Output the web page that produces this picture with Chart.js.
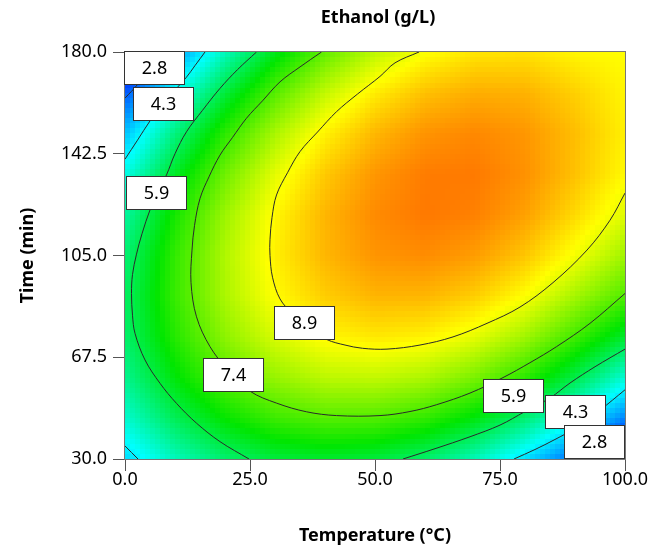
<!DOCTYPE html>
<html><head><meta charset="utf-8">
<script src="https://cdn.jsdelivr.net/npm/chart.js@4.4.1/dist/chart.umd.min.js"></script>
<style>html,body{margin:0;padding:0;background:#fff;} #wrap{width:666px;height:552px;}</style>
</head><body><div id="wrap"><canvas id="c" width="666" height="552"></canvas></div>
<script>
// ---------- data ----------
const chartTitle = 'Ethanol (g/L)';
const xTitle = 'Temperature (°C)';
const yTitle = 'Time (min)';
const xTicks = [0, 25, 50, 75, 100];
const yTicks = [30, 67.5, 105, 142.5, 180];

// surface values (rows: time, columns: temperature)
const gridTemps = [0, 10, 20, 30, 40, 50, 60, 70, 80, 90, 100];
const gridTimes = [30, 45, 60, 75, 90, 105, 120, 135, 150, 165, 180];
const row030 = [4.02, 4.98, 5.66, 6.08, 6.22, 6.09, 5.69, 5.01, 4.07, 2.85, 1.36];
const row045 = [4.81, 5.87, 6.65, 7.17, 7.41, 7.37, 7.07, 6.50, 5.65, 4.53, 3.14];
const row060 = [5.37, 6.52, 7.41, 8.02, 8.36, 8.42, 8.22, 7.74, 7.00, 5.98, 4.75];
const row075 = [5.69, 6.94, 7.92, 8.63, 9.07, 9.24, 9.13, 8.76, 8.11, 7.19, 6.20];
const row090 = [5.77, 7.12, 8.21, 9.02, 9.55, 9.82, 9.81, 9.54, 8.99, 8.16, 7.35];
const row105 = [5.62, 7.07, 8.25, 9.16, 9.80, 10.17, 10.26, 10.08, 9.63, 8.91, 8.10];
const row120 = [5.23, 6.79, 8.07, 9.07, 9.81, 10.28, 10.47, 10.39, 10.04, 9.41, 8.70];
const row135 = [4.61, 6.27, 7.64, 8.75, 9.59, 10.15, 10.44, 10.46, 10.21, 9.68, 9.05];
const row150 = [3.76, 5.51, 6.99, 8.19, 9.13, 9.79, 10.18, 10.30, 10.15, 9.72, 9.15];
const row165 = [2.67, 4.52, 6.10, 7.40, 8.43, 9.20, 9.69, 9.90, 9.85, 9.52, 9.10];
const row180 = [1.34, 3.29, 4.97, 6.37, 7.51, 8.37, 8.96, 9.27, 9.32, 9.09, 9.00];
const gridValues = [row030, row045, row060, row075, row090, row105, row120, row135, row150, row165, row180];

// contour lines: [temperature, time]
const contour89 = [[58.8,180],[54,176],[51,171],[46.5,164.5],[42.3,158],[38.5,150.5],[35,143.3],[32.5,135.5],[30.3,127.3],[29.4,119],[29,111],[29,105],[29.5,97],[31,89],[33.5,83.5],[36.5,78.5],[40.4,74],[44,72],[47.5,70.8],[52.4,70.5],[59,72],[65.6,75],[72.4,80],[79,86],[85.6,95],[92.4,107],[97,118],[100,128]];
const contour74 = [[39.3,180],[35,174.5],[31,169],[27.5,162],[24.3,155.6],[21.5,148.5],[19,142],[16.8,134],[15,126],[13.9,116],[13.4,107],[13.2,95],[14.3,82.4],[17,71.4],[20.5,63],[25,55],[30.3,50.6],[36.3,47.4],[42.3,46],[51,46],[57,47.5],[62.3,50],[69,54.3],[75.6,60],[81,65.5],[86.3,71.4],[93,80],[100,91]];
const contour59L = [[26.3,180],[22.5,173.5],[19,166.6],[15.5,158.5],[12.3,150.6],[10,142.5],[8.3,134.7],[6.5,128],[5,121.8],[3.4,113],[2.3,105.5],[1.5,98],[1.3,91],[1.5,83],[2,76.3],[4,66.5],[7,57.9],[10.3,50.5],[14.3,43.2],[19,36.4],[24.8,30]];
const contour59R = [[55.6,30],[62,33.8],[69,38.2],[75,42.5],[80,47.5],[85,52.5],[89,58],[94,64],[100,70.5]];
const contour43TL = [[16,180],[14,175],[12.2,170.5],[10,166],[7.5,160.5],[5,154.6],[2.5,147.5],[0,140.5]];
const contour43BL = [[0,34.8],[1.3,32.4],[2.6,30]];
const contour43BR = [[77.8,30],[82,33.5],[86,37.2],[90,41.3],[95,48],[100,55.5]];
const contour28TL = [[7.3,180],[5,174.5],[2.5,168],[0,163]];
const contour28BR = [[90.3,30],[94,33.7],[97,37.3],[100,42]];
const contourPieces = [contour89, contour74, contour59L, contour59R, contour43TL, contour43BL, contour43BR, contour28TL, contour28BR];

// contour labels
const labelTexts = ['2.8', '4.3', '5.9', '8.9', '7.4', '5.9', '4.3', '2.8'];
const labelTemps = [5.9, 7.7, 6.3, 35.9, 21.7, 77.7, 90.1, 93.8];
const labelTimes = [174.1, 161.0, 128.2, 80.1, 61.1, 53.2, 47.3, 36.1];

// ---------- drawing ----------
const FONT = '"Noto Sans", "DejaVu Sans", sans-serif';
const stopVals = [1.8, 4.4, 6.6, 9.0, 11.8];
const stopCols = [[0,0,255],[0,255,255],[0,230,0],[255,255,0],[255,0,0]];
function colorFor(v){
  if (v <= stopVals[0]) return 'rgb(' + stopCols[0].join(',') + ')';
  for (let i = 1; i < stopVals.length; i++){
    if (v <= stopVals[i]){
      const f = (v - stopVals[i-1]) / (stopVals[i] - stopVals[i-1]);
      const a = stopCols[i-1], b = stopCols[i];
      return 'rgb(' + [0,1,2].map(k => Math.round(a[k] + (b[k]-a[k])*f)).join(',') + ')';
    }
  }
  return 'rgb(' + stopCols[stopCols.length-1].join(',') + ')';
}
function idx(arr, v){
  let i = 0;
  while (i < arr.length - 2 && v > arr[i+1]) i++;
  return i;
}
function sample(T, t){
  const i = idx(gridTemps, T), j = idx(gridTimes, t);
  const fx = (T - gridTemps[i]) / (gridTemps[i+1] - gridTemps[i]);
  const fy = (t - gridTimes[j]) / (gridTimes[j+1] - gridTimes[j]);
  const v00 = gridValues[j][i], v10 = gridValues[j][i+1], v01 = gridValues[j+1][i], v11 = gridValues[j+1][i+1];
  return v00*(1-fx)*(1-fy) + v10*fx*(1-fy) + v01*(1-fx)*fy + v11*fx*fy;
}

const heatPlugin = {
  id: 'heat',
  beforeDatasetsDraw(chart){
    const {ctx, chartArea: a, scales: {x, y}} = chart;
    ctx.save();
    ctx.beginPath(); ctx.rect(a.left, a.top, a.right - a.left, a.bottom - a.top); ctx.clip();
    const nx = 100, ny = 80;
    const dx = (x.max - x.min) / nx, dy = (y.max - y.min) / ny;
    for (let i = 0; i < nx; i++){
      const T0 = x.min + i*dx;
      const px0 = Math.round(x.getPixelForValue(T0)), px1 = Math.round(x.getPixelForValue(T0 + dx));
      for (let j = 0; j < ny; j++){
        const t0 = y.min + j*dy;
        const py0 = Math.round(y.getPixelForValue(t0 + dy)), py1 = Math.round(y.getPixelForValue(t0));
        ctx.fillStyle = colorFor(sample(T0 + dx/2, t0 + dy/2));
        ctx.fillRect(px0, py0, px1 - px0, py1 - py0);
      }
    }
    ctx.restore();
  },
  afterDatasetsDraw(chart){
    const {ctx, chartArea: a, scales: {x, y}} = chart;
    ctx.save();
    // frame
    ctx.strokeStyle = '#777'; ctx.lineWidth = 1;
    ctx.strokeRect(Math.round(a.left) - 0.5, Math.round(a.top) - 0.5, Math.round(a.right - a.left) + 1, Math.round(a.bottom - a.top) + 1);
    // contour labels
    ctx.font = '18px ' + FONT;
    ctx.textAlign = 'center'; ctx.textBaseline = 'middle';
    const bw = 61, bh = 34;
    for (let k = 0; k < labelTexts.length; k++){
      const cx = x.getPixelForValue(labelTemps[k]), cy = y.getPixelForValue(labelTimes[k]);
      const l = Math.round(cx - bw/2), tp = Math.round(cy - bh/2);
      ctx.fillStyle = '#fff';
      ctx.fillRect(l, tp, bw, bh);
      ctx.strokeStyle = '#333';
      ctx.strokeRect(l + 0.5, tp + 0.5, bw - 1, bh - 1);
      ctx.fillStyle = '#000';
      ctx.fillText(labelTexts[k], l + bw/2, tp + bh/2 + 1);
    }
    // main title
    ctx.font = 'bold 18px ' + FONT;
    ctx.fillText(chartTitle, (a.left + a.right)/2 + 3, 18);
    ctx.restore();
  }
};

const datasets = contourPieces.map(p => ({
  type: 'scatter',
  data: p.map(q => ({x: q[0], y: q[1]})),
  showLine: true,
  borderColor: '#2a2a2a',
  borderWidth: 1,
  pointRadius: 0,
  tension: 0.35,
  fill: false
}));

const tickFont = {family: FONT, size: 18};
const titleFont = {family: FONT, size: 18, weight: 'bold'};

new Chart(document.getElementById('c'), {
  type: 'scatter',
  data: {datasets},
  options: {
    responsive: false, animation: false,
    layout: {padding: {top: 52, right: 41, left: 0, bottom: 0}},
    plugins: {legend: {display: false}, tooltip: {enabled: false}, title: {display: false}},
    scales: {
      x: {
        type: 'linear', min: 0, max: 100,
        afterBuildTicks: s => { s.ticks = xTicks.map(v => ({value: v})); },
        afterFit: s => { s.height = 93; },
        ticks: {callback: v => Number(v).toFixed(1), font: tickFont, color: '#000', padding: -2, maxRotation: 0, autoSkip: false},
        grid: {drawOnChartArea: false, drawTicks: true, tickLength: 12, color: '#555'},
        border: {color: '#555'},
        title: {display: true, text: xTitle, font: titleFont, color: '#000', padding: {top: 0, bottom: 5}}
      },
      y: {
        type: 'linear', min: 30, max: 180,
        afterBuildTicks: s => { s.ticks = yTicks.map(v => ({value: v})); },
        afterFit: s => { s.width = 125; },
        ticks: {callback: v => Number(v).toFixed(1), font: tickFont, color: '#000', padding: 6, autoSkip: false},
        grid: {drawOnChartArea: false, drawTicks: true, tickLength: 12, color: '#555'},
        border: {color: '#555'},
        title: {display: true, text: yTitle, font: titleFont, color: '#000', padding: {top: 17, bottom: 0}}
      }
    }
  },
  plugins: [heatPlugin]
});
</script>
</body></html>
